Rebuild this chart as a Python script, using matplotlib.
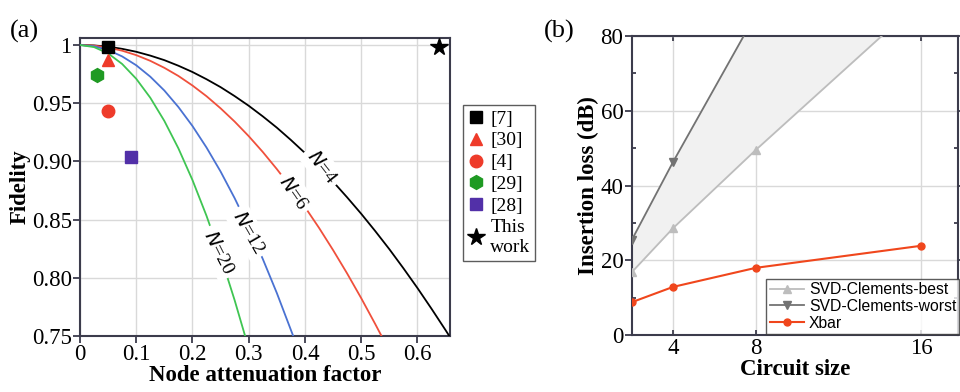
import matplotlib.pyplot as plt
import numpy as np

plt.rcParams["font.family"] = "Liberation Serif"

# ---- panel (a): fidelity vs node attenuation
alpha_n4 = [0, .025, .05, .075, .1, .125, .15, .175, .2, .225, .25, .275, .3, .325,
            .35, .375, .4, .425, .45, .475, .5, .525, .55, .575, .6, .625, .65, .657]
fid_n4 = [1, .9996, .9986, .9967, .9942, .9909, .9870, .9822, .9768, .9706, .9638,
          .9561, .9478, .9387, .9290, .9184, .9072, .8952, .8826, .8691, .8550,
          .8401, .8246, .8082, .7912, .7734, .7550, .7497]
alpha_n6 = [0, .025, .05, .075, .1, .125, .15, .175, .2, .225, .25, .275, .3, .325,
            .35, .375, .4, .425, .45, .475, .5, .525, .536]
fid_n6 = [1, .9995, .9978, .9951, .9913, .9864, .9804, .9734, .9652, .9560, .9456,
          .9342, .9217, .9081, .8934, .8777, .8608, .8429, .8238, .8037, .7825,
          .7602, .7501]
alpha_n12 = [0, .025, .05, .075, .1, .125, .15, .175, .2, .225, .25, .275, .3, .325,
             .35, .379]
fid_n12 = [1, .9989, .9957, .9902, .9826, .9728, .9609, .9467, .9304, .9119, .8913,
           .8684, .8434, .8162, .7869, .7501]
alpha_n20 = [0, .025, .05, .075, .1, .125, .15, .175, .2, .225, .25, .275, .2936]
fid_n20 = [1, .9982, .9928, .9837, .9710, .9547, .9348, .9112, .8840, .8532, .8188,
           .7807, .7500]

refs = ["[7]", "[30]", "[4]", "[29]", "[28]", "This\nwork"]
ref_alpha = [0.05, 0.05, 0.05, 0.03, 0.09, 0.638]
ref_fid = [0.998, 0.987, 0.943, 0.974, 0.904, 0.9985]

# ---- panel (b): insertion loss vs circuit size
size = [2, 4, 8, 16]
loss_best = [16.8, 28.6, 49.5, 89.5]
loss_worst = [25.4, 46.3, 85.7, 165.0]
loss_xbar = [8.8, 12.9, 18.0, 23.9]

fig = plt.figure(figsize=(9.6, 3.92), dpi=100)
spine_col = "#3c3c4c"
grid_col = "#d9d9d9"

# ------------------------------------------------ (a)
ax = fig.add_axes([0.0833, 0.143, 0.3855, 0.760])
curves = [(alpha_n4, fid_n4, "black", "4", 0.43, 0.895, -52),
          (alpha_n6, fid_n6, "#f0503c", "6", 0.38, 0.873, -55),
          (alpha_n12, fid_n12, "#4a72d2", "12", 0.30, 0.839, -60),
          (alpha_n20, fid_n20, "#3fc552", "20", 0.246, 0.822, -63)]
for a, f, c, n, tx, ty, rot in curves:
    ax.plot(a, f, color=c, lw=1.3, zorder=3)
    ax.text(tx, ty, "$N$=" + n, rotation=rot, rotation_mode="anchor",
            ha="center", va="center", fontsize=14, zorder=4,
            bbox=dict(fc="white", ec="none", pad=3))

styles = [("s", "black", 8), ("^", "#ee3b2a", 9), ("o", "#ee3b2a", 9),
          ("h", "#1f9a23", 10), ("s", "#5230a8", 8), ("*", "black", 13)]
for lab, a, f, (m, c, ms) in zip(refs, ref_alpha, ref_fid, styles):
    ax.plot(a, f, ls="none", marker=m, color=c, ms=ms, label=lab, zorder=5,
            clip_on=False)

ax.set_xlim(0, 0.658)
ax.set_ylim(0.75, 1.006)
ax.set_xticks([0, 0.1, 0.2, 0.3, 0.4, 0.5, 0.6])
ax.set_xticklabels(["0", "0.1", "0.2", "0.3", "0.4", "0.5", "0.6"])
ax.set_yticks([0.75, 0.80, 0.85, 0.90, 0.95, 1.0])
ax.set_yticklabels(["0.75", "0.80", "0.85", "0.90", "0.95", "1"])
ax.grid(True, color=grid_col, lw=1)
ax.set_axisbelow(True)
ax.tick_params(labelsize=16.5, length=5, width=1.3, color=spine_col, pad=1)
for s in ax.spines.values():
    s.set_color(spine_col)
    s.set_linewidth(1.5)
ax.set_xlabel("Node attenuation factor", fontsize=16.5, fontweight="bold", labelpad=0)
ax.set_ylabel("Fidelity", fontsize=16.5, fontweight="bold", labelpad=1)
leg = ax.legend(loc="upper left", bbox_to_anchor=(1.035, 0.775), fontsize=14,
                frameon=True, fancybox=False, edgecolor="#333333",
                handlelength=0.8, handletextpad=0.35, borderpad=0.25,
                labelspacing=0.22, borderaxespad=0)
leg.get_frame().set_linewidth(1.0)
fig.text(0.010, 0.905, "(a)", fontsize=19)

# ------------------------------------------------ (b)
bx = fig.add_axes([0.658, 0.145, 0.340, 0.763])
bx.fill_between(size, loss_best, loss_worst, color="#f1f1f1", zorder=1)
bx.plot(size, loss_best, color="#bdbdbd", marker="^", ms=6, lw=1.3,
        label="SVD-Clements-best", zorder=3)
bx.plot(size, loss_worst, color="#737373", marker="v", ms=6, lw=1.3,
        label="SVD-Clements-worst", zorder=3)
bx.plot(size, loss_xbar, color="#f0461c", marker="o", ms=5, lw=1.5,
        label="Xbar", zorder=3)
bx.set_xlim(2, 17.8)
bx.set_ylim(0, 80)
bx.set_xticks([4, 8, 16])
bx.set_yticks([0, 20, 40, 60, 80])
bx.set_yticks(np.arange(10, 80, 20), minor=True)
bx.grid(True, color=grid_col, lw=1)
bx.set_axisbelow(True)
bx.tick_params(which="both", labelsize=16.5, width=1.3, color=spine_col,
               top=True, right=True, direction="in", pad=2)
bx.tick_params(axis="y", which="major", length=5, direction="out", right=True, pad=1)
bx.tick_params(axis="y", which="minor", length=3)
for s in bx.spines.values():
    s.set_color(spine_col)
    s.set_linewidth(1.5)
bx.set_xlabel("Circuit size", fontsize=16.5, fontweight="bold", labelpad=0)
bx.set_ylabel("Insertion loss (dB)", fontsize=16.5, fontweight="bold", labelpad=1)
bleg = bx.legend(loc="lower right", bbox_to_anchor=(1.004, 0.005),
                 prop={"family": "Liberation Sans", "size": 11.3},
                 frameon=True, fancybox=False, edgecolor="#333333",
                 handlelength=2.2, handletextpad=0.3, borderpad=0.2,
                 labelspacing=0.1, borderaxespad=0)
bleg.get_frame().set_linewidth(1.0)
fig.text(0.567, 0.905, "(b)", fontsize=19)

fig.savefig("out.png", dpi=100)
